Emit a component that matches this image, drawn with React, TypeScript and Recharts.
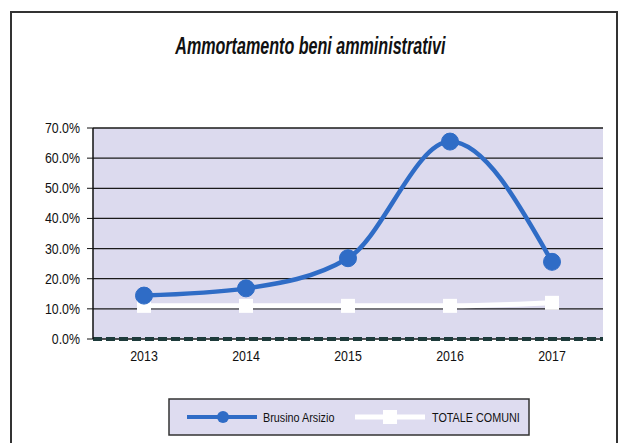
import { CartesianGrid, Legend, Line, LineChart, XAxis, YAxis } from "recharts";

const years = ["2013", "2014", "2015", "2016", "2017"];
const brusino = [14.4, 16.8, 26.8, 65.5, 25.6];
const totaleComuni = [11.0, 11.0, 11.0, 11.0, 12.0];
const yTicks = [0, 10, 20, 30, 40, 50, 60, 70];

const data = years.map((year, i) => ({
  year,
  brusino: brusino[i],
  totale: totaleComuni[i],
}));

const FONT = "'Liberation Sans', Arial, sans-serif";
const BLUE = "#2f6cc6";

// condensed text, the source used Arial Narrow
const NarrowText = ({ x, y, anchor, size, children }: any) => (
  <g transform={`translate(${x},${y}) scale(0.8,1)`}>
    <text x={0} y={0} textAnchor={anchor} fontFamily={FONT} fontSize={size} fill="#111">
      {children}
    </text>
  </g>
);

const YTick = (props: any) => {
  const { x, y, payload } = props;
  return (
    <NarrowText x={x} y={y + 5} anchor="end" size={15.5}>
      {payload.value.toFixed(1) + "%"}
    </NarrowText>
  );
};

const XTick = (props: any) => {
  const { x, y, payload } = props;
  return (
    <NarrowText x={x} y={y + 14} anchor="middle" size={15.5}>
      {payload.value}
    </NarrowText>
  );
};

const SquareDot = (props: any) => {
  const { cx, cy } = props;
  if (cx == null || cy == null) return null;
  return <rect x={cx - 7} y={cy - 7} width={14} height={14} fill="#ffffff" />;
};

const LegendBox = () => (
  <svg width={362} height={38}>
    <rect x={1} y={1} width={360} height={36} fill="#dedcf0" stroke="#333" strokeWidth={1.5} />
    <line x1={19} y1={19} x2={89} y2={19} stroke={BLUE} strokeWidth={4} />
    <circle cx={55} cy={19} r={6} fill={BLUE} />
    <NarrowText x={95} y={24} anchor="start" size={13.5}>Brusino Arsizio</NarrowText>
    <line x1={187} y1={19} x2={257} y2={19} stroke="#fff" strokeWidth={5} />
    <rect x={215} y={12} width={14} height={14} fill="#fff" />
    <NarrowText x={264} y={24} anchor="start" size={13.5}>TOTALE COMUNI</NarrowText>
  </svg>
);

export default function App() {
  return (
    <div style={{ position: "absolute", left: 0, top: 0, width: 621, height: 443, background: "#fff", overflow: "hidden" }}>
      <div style={{ position: "absolute", left: 10, top: 11, width: 604, height: 440, border: "2px solid #333" }} />
      <div
        style={{
          position: "absolute",
          left: 0,
          top: 33,
          width: 621,
          textAlign: "center",
          fontFamily: FONT,
          fontStyle: "italic",
          fontWeight: "bold",
          fontSize: 23,
          color: "#111",
          transform: "scaleX(0.7)",
          transformOrigin: "310px 0",
        }}
      >
        Ammortamento beni amministrativi
      </div>
      <div style={{ position: "absolute", left: 0, top: 0 }}>
        <LineChart width={621} height={443} data={data} margin={{ top: 128, right: 18, left: 0, bottom: 36 }}>
          <CartesianGrid vertical={false} stroke="#1a1a1a" strokeWidth={1.3} fill="#dcdaee" yAxisId="l" />
          <XAxis
            dataKey="year"
            padding={{ left: 51, right: 51 }}
            tickLine={false}
            axisLine={{ stroke: "#1e3b3b", strokeWidth: 4, strokeDasharray: "9 4" }}
            tick={<XTick />}
            height={30}
          />
          <YAxis
            yAxisId="l"
            domain={[0, 70]}
            ticks={yTicks}
            width={93}
            tick={<YTick />}
            tickLine={{ stroke: "#111" }}
            tickSize={6}
            tickMargin={7}
            axisLine={{ stroke: "#111", strokeWidth: 1.5 }}
          />
          <YAxis
            yAxisId="r"
            orientation="right"
            domain={[0, 70]}
            width={0}
            tick={false}
            tickLine={false}
            axisLine={{ stroke: "#8a8a9a" }}
          />
          <Legend
            content={<LegendBox />}
            wrapperStyle={{ top: 398, left: 168, width: 362, height: 38 }}
          />
          <Line
            yAxisId="l"
            type="monotone"
            dataKey="totale"
            name="TOTALE COMUNI"
            stroke="#ffffff"
            strokeWidth={5}
            dot={<SquareDot />}
            activeDot={false}
            isAnimationActive={false}
          />
          <Line
            yAxisId="l"
            type="monotone"
            dataKey="brusino"
            name="Brusino Arsizio"
            stroke={BLUE}
            strokeWidth={4.5}
            dot={{ r: 8.5, fill: BLUE, stroke: BLUE, strokeWidth: 1 }}
            activeDot={false}
            isAnimationActive={false}
          />
        </LineChart>
      </div>
    </div>
  );
}
